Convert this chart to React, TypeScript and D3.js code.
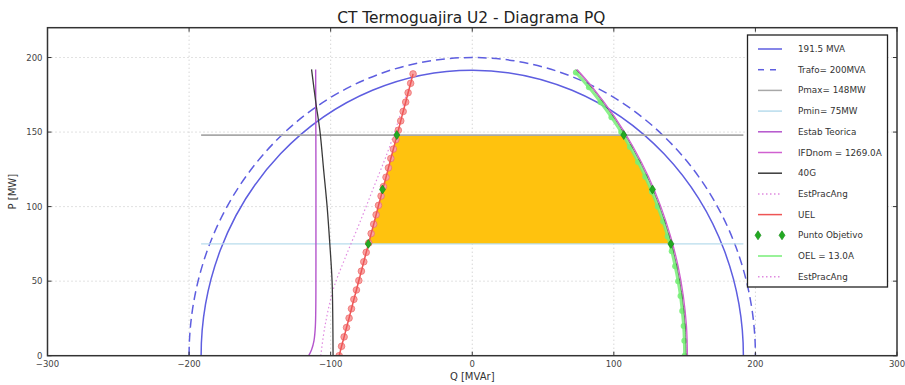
import React from "react";
import * as d3 from "d3";

// ---------- data ----------
const titleText = "CT Termoguajira U2 - Diagrama PQ";
const xTicks = [-300, -200, -100, 0, 100, 200, 300];
const yTicks = [0, 50, 100, 150, 200];
const gridX = [-200, -100, 0, 100, 200];
const gridY = [50, 100, 150, 200];

const genMVA = 191.5;
const trafoMVA = 200;
const pmax = 148;
const pmin = 75;
const qSpan = [-191.5, 191.5];

// Estab Teorica (violet, left)
const estabTeorica: [number, number][] = [
  [-115.5, 0], [-113.5, 4], [-111.8, 10], [-110.8, 20], [-110.4, 60], [-110.4, 120], [-110.6, 192],
];
// IFDnom = 1269.0A (magenta, right)
const ifdNom: [number, number][] = [
  [152.0, 0], [151.3, 20], [149.1, 40], [145.4, 60], [140.1, 80], [133.2, 100],
  [124.5, 120], [113.7, 140], [100.7, 160], [85.0, 180], [74.0, 192],
];
// 40G (dark, left and right)
const g40Left: [number, number][] = [
  [-98.3, 0], [-98.5, 25], [-99, 50], [-100.6, 75], [-102.5, 100], [-105, 125],
  [-107.5, 150], [-110.5, 170], [-113.5, 192],
];
const g40Right: [number, number][] = [
  [151.2, 0], [150.5, 20], [148.3, 40], [144.6, 60], [139.3, 80], [132.4, 100],
  [123.7, 120], [112.9, 140], [99.9, 160], [84.2, 180], [73.2, 192],
];
// EstPracAng (pink dotted, left)
const estPracAng: [number, number][] = [
  [-107, 0], [-104, 20], [-98, 45], [-90, 65], [-80, 88], [-70, 112], [-60, 136], [-52, 158], [-45, 180],
];
// UEL (red with markers)
const uelQ = [-94.0, -92.3, -90.5, -88.8, -87.0, -85.3, -83.6, -81.8, -80.1, -78.3, -76.6, -74.9, -73.1, -71.4, -69.6, -67.9, -66.2, -64.4, -62.7, -60.9, -59.2, -57.5, -55.7, -54.0, -52.2, -50.5, -48.8, -47.0, -45.3, -43.5, -41.8];
const uelP = [0, 6.3, 12.6, 18.9, 25.2, 31.5, 37.8, 44.1, 50.4, 56.7, 63.0, 69.3, 75.6, 81.9, 88.2, 94.5, 100.8, 107.1, 113.4, 119.7, 126.0, 132.3, 138.6, 144.9, 151.2, 157.5, 163.8, 170.1, 176.4, 182.7, 189.0];
// OEL = 13.0A (green with markers)
const oelQ = [150.0, 149.8, 149.3, 148.3, 147.1, 145.4, 143.3, 140.9, 138.0, 134.8, 131.0, 126.9, 122.2, 117.1, 111.4, 105.2, 98.3, 90.7, 82.4, 73.2];
const oelP = [0, 10, 20, 30, 40, 50, 60, 70, 80, 90, 100, 110, 120, 130, 140, 150, 160, 170, 180, 190];
// Punto Objetivo
const objetivoQ = [-53.3, -63.4, -73.4, 107.0, 127.3, 140.3];
const objetivoP = [148, 111.5, 75, 148, 111.5, 75];
// Operating region (orange)
const regionPts: [number, number][] = [
  [-73.4, 75], [140.3, 75], [138.0, 80], [134.8, 90], [131.0, 100], [126.9, 110],
  [122.2, 120], [117.1, 130], [111.4, 140], [107.0, 148], [-53.3, 148],
];

const legendLabels = [
  "191.5 MVA", "Trafo= 200MVA", "Pmax= 148MW", "Pmin= 75MW", "Estab Teorica",
  "IFDnom = 1269.0A", "40G", "EstPracAng", "UEL", "Punto Objetivo", "OEL = 13.0A", "EstPracAng",
];

// ---------- styles ----------
const BLUE = "#5e5ee0";
const GRAY = "#a8a8a8";
const LIGHTBLUE = "#b8dcec";
const VIOLET = "#b455cc";
const MAGENTA = "#d060d0";
const DARK = "#3a3a3a";
const PINK = "#e08ae0";
const RED = "#ee5555";
const GREEN = "#22aa22";
const LGREEN = "#77ee77";
const ORANGE = "#ffc20e";
const FONT = "DejaVu Sans, sans-serif";

export default function App() {
  const W = 905, H = 385;
  const x = d3.scaleLinear().domain([-300, 300]).range([47.5, 897]);
  const y = d3.scaleLinear().domain([0, 220]).range([355.7, 27.7]);

  const curve = d3.line<[number, number]>().x(d => x(d[0])).y(d => y(d[1])).curve(d3.curveCatmullRom);
  const straight = d3.line<[number, number]>().x(d => x(d[0])).y(d => y(d[1]));

  const arc = (r: number) =>
    `M${x(-r)},${y(0)} A${x(r) - x(0)},${y(0) - y(r)} 0 0 1 ${x(r)},${y(0)}`;

  const uel: [number, number][] = uelQ.map((q, i) => [q, uelP[i]]);
  const oel: [number, number][] = oelQ.map((q, i) => [q, oelP[i]]);
  const objetivo: [number, number][] = objetivoQ.map((q, i) => [q, objetivoP[i]]);

  const [x0, x1] = x.range();
  const [yb, yt] = y.range();

  const diamond = (cx: number, cy: number, k = 1) =>
    `M${cx},${cy - 4.5 * k} L${cx + 3 * k},${cy} L${cx},${cy + 4.5 * k} L${cx - 3 * k},${cy} Z`;

  // legend
  const lgX = 747.5, lgY = 35, lgW = 140, lgH = 252;
  const rowY = (i: number) => 49 + i * 20.7;
  const s0 = 758, s1 = 782;

  const legendSample = (i: number) => {
    const yy = rowY(i);
    const ln = (stroke: string, extra: any = {}) => (
      <line x1={s0} x2={s1} y1={yy} y2={yy} stroke={stroke} strokeWidth={1.5} {...extra} />
    );
    switch (i) {
      case 0: return ln(BLUE);
      case 1: return ln(BLUE, { strokeDasharray: "6,6", strokeDashoffset: 0 });
      case 2: return ln(GRAY);
      case 3: return ln(LIGHTBLUE);
      case 4: return ln(VIOLET);
      case 5: return ln(MAGENTA);
      case 6: return ln(DARK);
      case 7: return ln(PINK, { strokeDasharray: "1.5,2.5" });
      case 8: return ln(RED);
      case 9:
        return (
          <g>
            <path d={diamond(s0, yy)} fill={GREEN} stroke="#118811" strokeWidth={0.6} />
            <path d={diamond(s1, yy)} fill={GREEN} stroke="#118811" strokeWidth={0.6} />
          </g>
        );
      case 10: return ln(LGREEN);
      case 11: return ln(PINK, { strokeDasharray: "1.5,2.5" });
    }
    return null;
  };

  return (
    <svg width={W} height={H} style={{ position: "absolute", left: 0, top: 0, background: "#fff" }}
      fontFamily={FONT}>
      <defs>
        <clipPath id="plotClip">
          <rect x={x0} y={yt} width={x1 - x0} height={yb - yt} />
        </clipPath>
      </defs>

      {/* title */}
      <text x={(x0 + x1) / 2 - 1} y={22.5} textAnchor="middle" fontSize={15.4} fill="#222">{titleText}</text>

      {/* grid */}
      <g stroke="#c4c4c4" strokeWidth={1} strokeDasharray="1,3">
        {gridX.map(v => <line key={"gx" + v} x1={x(v)} x2={x(v)} y1={yt} y2={yb} />)}
        {gridY.map(v => <line key={"gy" + v} x1={x0} x2={x1} y1={y(v)} y2={y(v)} />)}
      </g>

      <g clipPath="url(#plotClip)">
        {/* operating region */}
        <path d={straight(regionPts)! + "Z"} fill={ORANGE} stroke="none" />

        {/* capability circles */}
        <path d={arc(genMVA)} fill="none" stroke={BLUE} strokeWidth={1.5} />
        <path d={arc(trafoMVA)} fill="none" stroke={BLUE} strokeWidth={1.5} strokeDasharray="9,5" />

        {/* P limits */}
        <line x1={x(qSpan[0])} x2={x(qSpan[1])} y1={y(pmax)} y2={y(pmax)} stroke={GRAY} strokeWidth={1.8} />
        <line x1={x(qSpan[0])} x2={x(qSpan[1])} y1={y(pmin)} y2={y(pmin)} stroke={LIGHTBLUE} strokeWidth={1.2} />

        {/* stability / field limits */}
        <path d={curve(estabTeorica)!} fill="none" stroke={VIOLET} strokeWidth={1.4} />
        <path d={curve(estPracAng)!} fill="none" stroke={PINK} strokeWidth={1.2} strokeDasharray="1.5,2.5" />
        <path d={curve(g40Left)!} fill="none" stroke={DARK} strokeWidth={1.3} />

        {/* OEL */}
        <path d={curve(oel)!} fill="none" stroke={LGREEN} strokeWidth={3} opacity={0.85} />
        {oel.map((d, i) => (
          <circle key={"o" + i} cx={x(d[0])} cy={y(d[1])} r={3} fill={LGREEN} opacity={0.9} />
        ))}
        <path d={curve(g40Right)!} fill="none" stroke={DARK} strokeWidth={0.9} opacity={0.7} />
        <path d={curve(ifdNom)!} fill="none" stroke={MAGENTA} strokeWidth={1.3} />

        {/* UEL */}
        {uel.map((d, i) => (
          <circle key={"u" + i} cx={x(d[0])} cy={y(d[1])} r={3.3} fill="#f7a3a3" stroke="#ef7070" strokeWidth={0.8} />
        ))}
        <path d={straight(uel)!} fill="none" stroke={RED} strokeWidth={1.5} />

        {/* Punto Objetivo */}
        {objetivo.map((d, i) => (
          <path key={"p" + i} d={diamond(x(d[0]), y(d[1]))} fill={GREEN} stroke="#118811" strokeWidth={0.6} />
        ))}
      </g>

      {/* frame */}
      <rect x={x0} y={yt} width={x1 - x0} height={yb - yt} fill="none" stroke="#333" strokeWidth={1.5} />

      {/* ticks */}
      <g stroke="#333" strokeWidth={1}>
        {xTicks.map(v => (
          <g key={"tx" + v}>
            <line x1={x(v)} x2={x(v)} y1={yb} y2={yb - 4} />
            <line x1={x(v)} x2={x(v)} y1={yt} y2={yt + 4} />
          </g>
        ))}
        {yTicks.map(v => (
          <g key={"ty" + v}>
            <line x1={x0} x2={x0 + 4} y1={y(v)} y2={y(v)} />
            <line x1={x1} x2={x1 - 4} y1={y(v)} y2={y(v)} />
          </g>
        ))}
      </g>

      {/* tick labels */}
      <g fontSize={8.5} fill="#444">
        {xTicks.map(v => (
          <text key={"lx" + v} x={x(v)} y={367} textAnchor="middle">{v < 0 ? "\u2212" + Math.abs(v) : String(v)}</text>
        ))}
        {yTicks.map(v => (
          <text key={"ly" + v} x={x0 - 5} y={y(v) + 3} textAnchor="end">{v}</text>
        ))}
      </g>

      {/* axis labels */}
      <text x={(x0 + x1) / 2} y={380} textAnchor="middle" fontSize={10} fill="#333">Q [MVAr]</text>
      <text transform={`translate(16,${(yt + yb) / 2}) rotate(-90)`} textAnchor="middle" fontSize={10} fill="#333">P [MW]</text>

      {/* legend */}
      <rect x={lgX} y={lgY} width={lgW} height={lgH} fill="#fff" stroke="#222" strokeWidth={1.3} />
      {legendLabels.map((lab, i) => (
        <g key={"lg" + i}>
          {legendSample(i)}
          <text x={798} y={rowY(i) + 3} fontSize={8.8} fill="#333">{lab}</text>
        </g>
      ))}
    </svg>
  );
}
